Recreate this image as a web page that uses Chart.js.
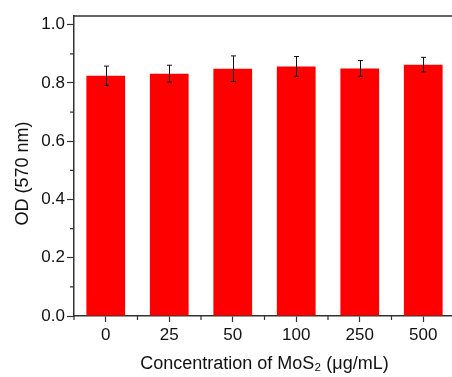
<!DOCTYPE html>
<html>
<head>
<meta charset="utf-8">
<script src="https://cdn.jsdelivr.net/npm/chart.js@4/dist/chart.umd.min.js"></script>
<style>
  html, body { margin: 0; padding: 0; background: #fff; overflow: hidden; }
  #wrap { position: relative; width: 455px; height: 377px; }
</style>
</head>
<body>
<div id="wrap"><canvas id="chart"></canvas></div>
<script>
//-------------------Data-------------------
const concentrations = ['0', '25', '50', '100', '250', '500'];
const odValues = [0.825, 0.832, 0.849, 0.857, 0.850, 0.863];
const odErrors = [0.033, 0.029, 0.044, 0.034, 0.027, 0.025];
const yMajorTicks = [0, 0.2, 0.4, 0.6, 0.8, 1.0];
const yMinorTicks = [0.1, 0.3, 0.5, 0.7, 0.9];

const axisColor = '#333';
const fontFamily = '"Liberation Sans", Arial, sans-serif';

//-------------------Plugin: frame, minor ticks, error bars-------------------
const extrasPlugin = {
  id: 'extras',
  afterDatasetsDraw(chart) {
    const ctx = chart.ctx;
    const xs = chart.scales.x;
    const ys = chart.scales.y;
    const area = chart.chartArea;
    ctx.save();

    //error bars
    ctx.strokeStyle = '#111';
    ctx.lineWidth = 1;
    const meta = chart.getDatasetMeta(0);
    meta.data.forEach((bar, i) => {
      const x = Math.round(bar.x) + 0.5;
      const yTop = ys.getPixelForValue(odValues[i] + odErrors[i]);
      const yBot = ys.getPixelForValue(odValues[i] - odErrors[i]);
      ctx.beginPath();
      ctx.moveTo(x, yTop); ctx.lineTo(x, yBot);
      ctx.moveTo(x - 2.5, yTop); ctx.lineTo(x + 2.5, yTop);
      ctx.moveTo(x - 2.5, yBot); ctx.lineTo(x + 2.5, yBot);
      ctx.stroke();
    });

    //top frame line
    ctx.strokeStyle = axisColor;
    ctx.lineWidth = 1.5;
    ctx.beginPath();
    ctx.moveTo(area.left, area.top);
    ctx.lineTo(area.right + 5, area.top);
    ctx.stroke();

    //minor y ticks
    ctx.lineWidth = 1.2;
    ctx.beginPath();
    yMinorTicks.forEach(v => {
      const y = ys.getPixelForValue(v);
      ctx.moveTo(area.left - 4, y); ctx.lineTo(area.left, y);
    });
    //minor x ticks at category boundaries
    for (let i = 0; i <= concentrations.length; i++) {
      const x = xs.getPixelForValue(i - 0.5);
      ctx.moveTo(x, area.bottom); ctx.lineTo(x, area.bottom + 4);
    }
    ctx.stroke();
    ctx.restore();
  }
};

//-------------------Chart-------------------
const ctx = document.getElementById('chart').getContext('2d');
new Chart(ctx, {
  type: 'bar',
  data: {
    labels: concentrations,
    datasets: [{
      data: odValues,
      backgroundColor: '#ff0000',
      borderWidth: 0,
      categoryPercentage: 1.0,
      barPercentage: 0.61
    }]
  },
  options: {
    responsive: true,
    maintainAspectRatio: false,
    animation: false,
    layout: { padding: { top: 16, right: 0, left: 0, bottom: 0 } },
    plugins: {
      legend: { display: false },
      tooltip: { enabled: false }
    },
    scales: {
      x: {
        grid: {
          offset: false,
          drawOnChartArea: false,
          tickLength: 6,
          tickColor: axisColor,
          tickWidth: 1.2
        },
        border: { color: axisColor, width: 1.5 },
        ticks: {
          color: '#111',
          padding: 3,
          maxRotation: 0,
          font: { family: fontFamily, size: 17 }
        },
        title: {
          display: true,
          text: 'Concentration of MoS\u2082 (\u03bcg/mL)',
          color: '#111',
          font: { family: fontFamily, size: 18 },
          padding: { top: 0, bottom: 2 }
        },
        afterFit(scale) { scale.height = 61; }
      },
      y: {
        min: 0,
        max: 1.03,
        grid: {
          drawOnChartArea: false,
          tickLength: 7,
          tickColor: axisColor,
          tickWidth: 1.2
        },
        border: { color: axisColor, width: 1.5 },
        ticks: {
          color: '#111',
          padding: 2,
          font: { family: fontFamily, size: 17 },
          callback: (v) => Number(v).toFixed(1)
        },
        afterBuildTicks(scale) {
          scale.ticks = yMajorTicks.map(v => ({ value: v }));
        },
        title: {
          display: true,
          text: 'OD (570 nm)   ',
          color: '#111',
          font: { family: fontFamily, size: 18 },
          padding: { top: 12, bottom: 0 }
        },
        afterFit(scale) { scale.width = 74; }
      }
    }
  },
  plugins: [extrasPlugin]
});
</script>
</body>
</html>
